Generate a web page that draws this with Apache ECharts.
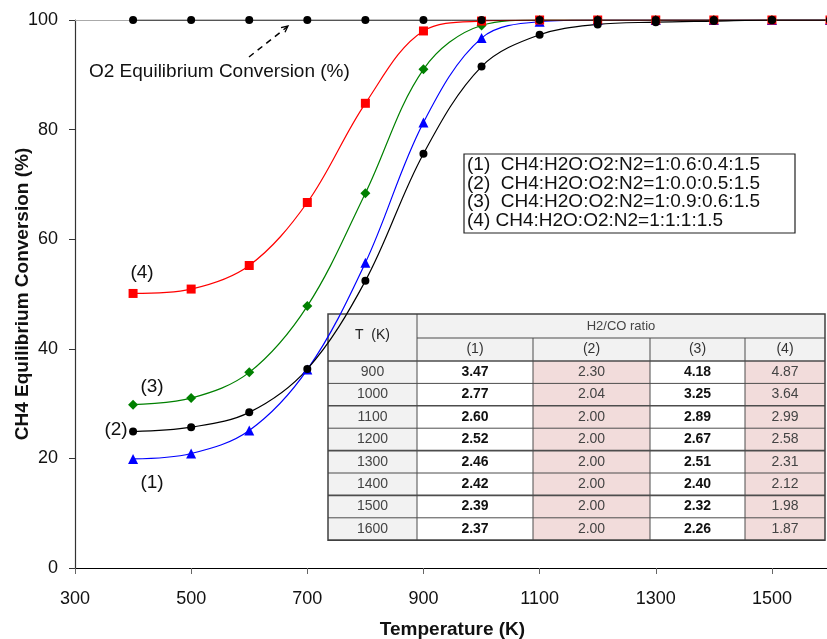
<!DOCTYPE html>
<html>
<head>
<meta charset="utf-8">
<script src="https://cdn.jsdelivr.net/npm/echarts@6/dist/echarts.min.js"></script>
<style>
  html, body { margin: 0; padding: 0; background: #fff; }
  #chart { width: 827px; height: 639px; }
</style>
</head>
<body>
<div id="chart"></div>
<script>
// temperatures (K) of the plotted points
var temps = [400, 500, 600, 700, 800, 900, 1000, 1100, 1200, 1300, 1400, 1500, 1600];
// CH4 equilibrium conversion (%)
var conv1 = [19.9, 20.9, 25.1, 36.2, 55.7, 81.3, 96.7, 99.7, 100, 100, 100, 100, 100];
var conv2 = [24.9, 25.7, 28.4, 36.3, 52.4, 75.6, 91.5, 97.3, 99.2, 99.6, 99.8, 100, 100];
var conv3 = [29.8, 31.0, 35.7, 47.8, 68.4, 91.0, 99.0, 100, 100, 100, 100, 100, 100];
var conv4 = [50.1, 50.9, 55.2, 66.7, 84.8, 98.0, 99.8, 100, 100, 100, 100, 100, 100];
// O2 equilibrium conversion (%)
var o2conv = [100, 100, 100, 100, 100, 100, 100, 100, 100, 100, 100, 100, 100];

// inset table: H2/CO ratio
var tableTemps = ["900", "1000", "1100", "1200", "1300", "1400", "1500", "1600"];
var ratio1 = ["3.47", "2.77", "2.60", "2.52", "2.46", "2.42", "2.39", "2.37"];
var ratio2 = ["2.30", "2.04", "2.00", "2.00", "2.00", "2.00", "2.00", "2.00"];
var ratio3 = ["4.18", "3.25", "2.89", "2.67", "2.51", "2.40", "2.32", "2.26"];
var ratio4 = ["4.87", "3.64", "2.99", "2.58", "2.31", "2.12", "1.98", "1.87"];
var caseNames = ["(1)", "(2)", "(3)", "(4)"];
var legendLines = [
  "(1)  CH4:H2O:O2:N2=1:0.6:0.4:1.5",
  "(2)  CH4:H2O:O2:N2=1:0.0:0.5:1.5",
  "(3)  CH4:H2O:O2:N2=1:0.9:0.6:1.5",
  "(4) CH4:H2O:O2:N2=1:1:1:1.5"
];

var FONT = "Liberation Sans, Arial, sans-serif";

function pairs(ys) {
  return temps.map(function (t, i) { return [t, ys[i]]; });
}

function buildTable() {
  var colX = [328, 417, 533, 650, 745, 825];
  var top = 314, h1 = 24, h2 = 23, rowH = 22.4;
  var bodyTop = top + h1 + h2;
  var bottom = bodyTop + rowH * tableTemps.length;
  var els = [];
  var cols = [ratio1, ratio2, ratio3, ratio4];
  // backgrounds
  els.push({ type: "rect", shape: { x: colX[0], y: top, width: colX[5] - colX[0], height: bottom - top },
    style: { fill: "#f2f2f2" } });
  for (var c = 0; c < 4; c++) {
    els.push({ type: "rect", shape: { x: colX[c + 1], y: bodyTop, width: colX[c + 2] - colX[c + 1], height: bottom - bodyTop },
      style: { fill: (c % 2 === 1) ? "#f2dcdb" : "#ffffff" } });
  }
  // grid lines
  var line = function (x1, y1, x2, y2, w) {
    els.push({ type: "line", shape: { x1: x1, y1: y1, x2: x2, y2: y2 },
      style: { stroke: "#4d4d4d", lineWidth: w || 1 } });
  };
  line(colX[1], top + h1, colX[5], top + h1);
  for (var r = 0; r <= tableTemps.length; r++) {
    line(colX[0], bodyTop + r * rowH, colX[5], bodyTop + r * rowH, r % 2 === 0 ? 1.6 : 1);
  }
  for (var k = 1; k < 5; k++) {
    line(colX[k], k === 1 ? top : top + h1, colX[k], bottom);
  }
  els.push({ type: "rect", shape: { x: colX[0], y: top, width: colX[5] - colX[0], height: bottom - top },
    style: { fill: null, stroke: "#404040", lineWidth: 1.5 } });
  // header text
  var txt = function (x, y, s, bold, color, size) {
    els.push({ type: "text", x: x, y: y,
      style: { text: s, font: (bold ? "bold " : "") + (size || 14) + "px " + FONT,
        fill: color || "#333", align: "center", verticalAlign: "middle" } });
  };
  txt((colX[0] + colX[1]) / 2, top + (h1 + h2) / 2 - 2, "T  (K)", false, "#222", 14);
  txt((colX[1] + colX[5]) / 2, top + h1 / 2, "H2/CO ratio", false, "#444", 13);
  for (var j = 0; j < 4; j++) {
    txt((colX[j + 1] + colX[j + 2]) / 2, top + h1 + h2 / 2, caseNames[j], false, "#333", 14);
  }
  for (var i = 0; i < tableTemps.length; i++) {
    var cy = bodyTop + rowH * (i + 0.5);
    txt((colX[0] + colX[1]) / 2, cy, tableTemps[i], false, "#444", 14);
    for (var m = 0; m < 4; m++) {
      var bold = (m % 2 === 0);
      txt((colX[m + 1] + colX[m + 2]) / 2, cy, cols[m][i], bold, bold ? "#111" : "#444", 14);
    }
  }
  return { type: "group", z: 100, children: els };
}

function buildNotes() {
  var els = [];
  var lab = function (x, y, s) {
    els.push({ type: "text", x: x, y: y,
      style: { text: s, font: "19px " + FONT, fill: "#111", align: "center", verticalAlign: "middle" } });
  };
  lab(142, 273, "(4)");
  lab(152, 387, "(3)");
  lab(116, 430, "(2)");
  lab(152, 483, "(1)");
  els.push({ type: "text", x: 89, y: 72,
    style: { text: "O2 Equilibrium Conversion (%)", font: "19px " + FONT, fill: "#111",
      align: "left", verticalAlign: "middle" } });
  // dashed arrow
  els.push({ type: "line", shape: { x1: 249, y1: 57, x2: 287, y2: 27 },
    style: { stroke: "#000", lineWidth: 1.5, lineDash: [6, 5] } });
  els.push({ type: "polyline", shape: { points: [[281, 27.6], [288, 26], [285, 32.3]] },
    style: { stroke: "#000", lineWidth: 1.3, fill: null } });
  // legend box
  els.push({ type: "rect", shape: { x: 464, y: 154, width: 331, height: 79 },
    style: { fill: "#fff", stroke: "#222", lineWidth: 1.2 } });
  legendLines.forEach(function (s, i) {
    els.push({ type: "text", x: 467, y: 165 + i * 18.6,
      style: { text: s, font: "19px " + FONT, fill: "#111", align: "left", verticalAlign: "middle" } });
  });
  return { type: "group", z: 90, children: els };
}

var chart = echarts.init(document.getElementById("chart"));

function lineSeries(name, data, color, symbol, size) {
  return {
    name: name,
    type: "line",
    data: pairs(data),
    smooth: 0.35,
    symbol: symbol,
    symbolSize: size,
    lineStyle: { color: color, width: 1.2 },
    itemStyle: { color: color },
    animation: false
  };
}

chart.setOption({
  backgroundColor: "#fff",
  grid: { left: 75, right: -3, top: 20, bottom: 71, containLabel: false, outerBoundsMode: "none" },
  xAxis: [{
    type: "value",
    min: 300,
    max: 1600,
    interval: 200,
    name: "Temperature (K)",
    nameLocation: "middle",
    nameGap: 52,
    nameMoveOverlap: false,
    nameTextStyle: { fontFamily: FONT, fontSize: 19, fontWeight: "bold", color: "#111" },
    splitLine: { show: false },
    axisLine: { lineStyle: { color: "#000", width: 1.2 } },
    axisTick: { show: true, length: 6, lineStyle: { color: "#666" } },
    axisLabel: { fontFamily: FONT, fontSize: 18, color: "#111", margin: 22, showMaxLabel: false,
      formatter: function (v) { return String(v); } }
  }, {
    type: "value",
    position: "top",
    min: 300,
    max: 1600,
    splitLine: { show: false },
    axisLine: { lineStyle: { color: "#aaa", width: 1 } },
    axisTick: { show: false },
    axisLabel: { show: false }
  }],
  yAxis: {
    type: "value",
    min: 0,
    max: 100,
    interval: 20,
    name: "CH4 Equilibrium Conversion (%)",
    nameLocation: "middle",
    nameGap: 43,
    nameMoveOverlap: false,
    nameTextStyle: { fontFamily: FONT, fontSize: 19, fontWeight: "bold", color: "#111" },
    splitLine: { show: false },
    axisLine: { show: true, lineStyle: { color: "#333", width: 1.2 } },
    axisTick: { show: true, length: 6, lineStyle: { color: "#333" } },
    axisLabel: { fontFamily: FONT, fontSize: 18, color: "#111", margin: 17 }
  },
  series: [
    lineSeries("(1)", conv1, "#0000ff", "triangle", 10),
    lineSeries("(3)", conv3, "#008000", "diamond", 10),
    lineSeries("(4)", conv4, "#ff0000", "rect", 9),
    lineSeries("(2)", conv2, "#000000", "circle", 8),
    lineSeries("O2", o2conv, "#000000", "circle", 8)
  ],
  graphic: [buildNotes(), buildTable()]
});
</script>
</body>
</html>
